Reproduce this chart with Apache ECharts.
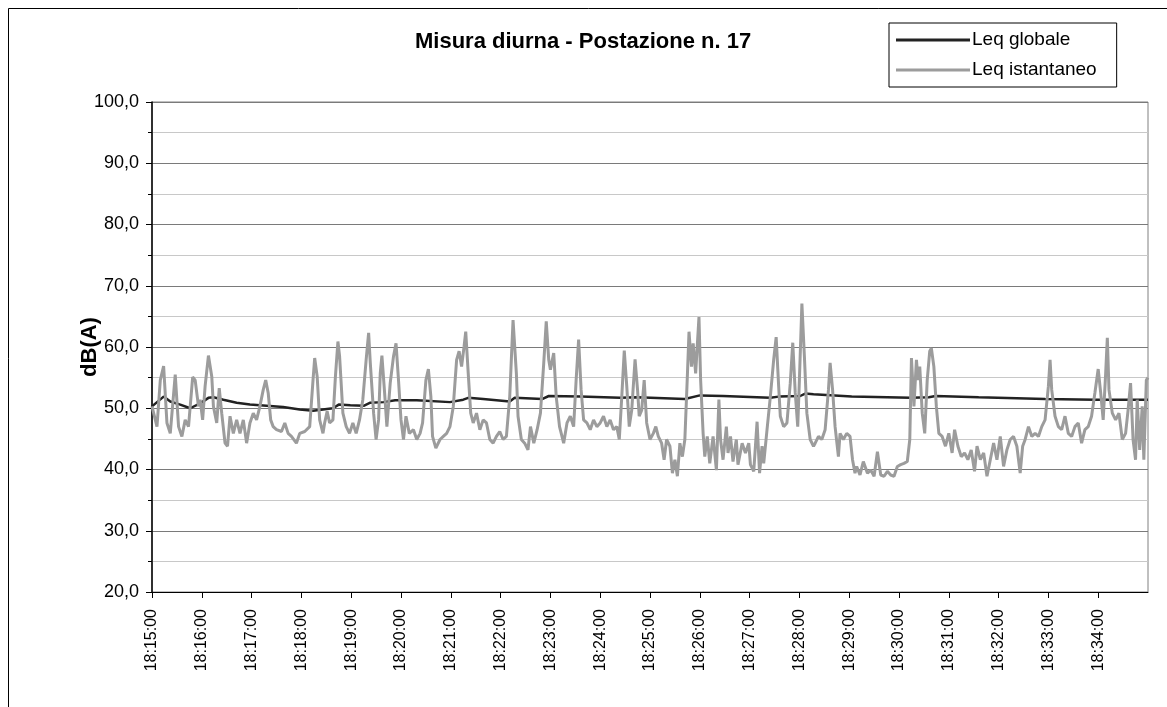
<!DOCTYPE html>
<html>
<head>
<meta charset="utf-8">
<script src="https://cdn.jsdelivr.net/npm/echarts@6/dist/echarts.min.js"></script>
<style>
  html, body { margin: 0; padding: 0; background: #fff; }
  #chart { width: 1167px; height: 707px; }
</style>
</head>
<body>
<div id="chart"></div>
<script>
  // seconds from 18:15:00, dB(A)
  var leqIstantaneo = [
    [0,50.3],[6,47.0],[10,54.6],[14,56.9],[18,47.6],[22,45.9],[28,55.5],[32,47.0],[36,45.4],[40,48.1],[44,47.0],[49,55.1],[52,54.6],[56,50.3],[58,51.4],
    [61,48.1],[64,53.6],[68,58.6],[72,55.2],[74,50.3],[78,47.6],[81,53.3],[84,49.2],[88,44.3],[91,43.8],[94,48.7],[98,45.9],[102,48.1],[106,45.9],[110,48.1],[114,44.3],[118,47.6],
    [122,49.2],[126,48.1],[130,50.3],[134,53.0],[137,54.6],[140,52.5],[143,48.1],[146,47.0],[150,46.5],[156,46.2],[160,47.6],[164,45.9],[168,45.4],[174,44.3],[178,45.9],
    [184,46.2],[190,47.0],[194,54.6],[196,58.2],[199,55.2],[202,48.1],[206,45.9],[208,47.6],[211,49.5],[214,47.6],[218,48.1],[221,55.2],[224,60.9],[226,58.5],[230,49.2],[234,47.0],[238,45.9],
    [242,47.6],[246,45.9],[250,48.1],[254,51.4],[258,57.9],[261,62.3],[263,57.4],[267,49.2],[270,44.9],[273,48.1],[275,55.7],[277,58.6],[280,53.0],[283,47.0],[287,54.1],[291,58.5],[294,60.6],[297,54.6],
    [300,48.1],[303,44.9],[306,48.7],[310,45.9],[315,46.5],[319,44.9],[323,45.9],[326,47.6],[330,54.6],[333,56.4],[336,51.9],[338,45.4],[342,43.5],[347,44.9],[351,45.4],[355,45.9],[359,47.0],
    [363,50.3],[367,57.9],[370,59.3],[373,56.8],[376,60.1],[378,62.5],[381,55.7],[384,49.2],[387,47.6],[391,49.2],[395,46.5],[399,48.1],
    [403,47.6],[407,44.9],[411,44.3],[415,45.4],[419,46.2],[423,44.9],[427,45.4],[431,51.9],[435,64.4],[439,55.7],[441,48.7],[445,44.9],[449,44.3],[453,43.2],[456,47.0],[460,44.3],[464,46.5],[468,49.2],[472,57.4],[475,64.2],[478,57.9],
    [480,56.3],[484,59.0],[487,51.9],[491,47.0],[496,44.3],[500,47.6],[504,48.7],[508,47.0],[511,54.6],[514,61.2],[517,53.0],[520,48.1],[524,47.6],[528,46.5],[532,48.1],[536,47.0],
    [540,47.6],[544,48.7],[548,47.0],[552,48.1],[556,46.5],[560,47.0],[563,44.9],[566,51.9],[569,59.4],[572,53.6],[575,47.0],[578,49.7],[582,58.0],[585,53.0],[587,48.7],[590,49.7],[593,54.6],[596,47.6],
    [600,44.9],[604,45.9],[607,47.0],[610,45.4],[614,44.3],[617,41.6],[620,44.9],[624,43.8],[627,39.4],[630,41.6],[633,38.9],[636,44.3],[639,42.1],[642,44.9],[645,55.2],[647,62.5],[650,56.8],[652,60.6],[655,55.7],[659,64.9],
    [661,54.6],[664,45.9],[666,42.1],[669,45.4],[672,41.0],[676,45.4],[680,39.9],[683,51.4],[685,44.9],[688,41.6],[692,47.0],[694,42.7],[697,45.4],[700,41.3],[704,44.9],[706,40.8],[711,44.3],[715,42.7],
    [719,44.3],[721,40.8],[725,39.7],[729,47.8],[732,39.4],[735,43.8],[737,41.0],[741,46.5],[745,51.9],[749,57.9],[752,61.6],[755,53.6],[757,48.7],[761,47.0],[765,47.6],[769,54.1],[772,60.7],[775,52.5],
    [778,47.0],[780,54.6],[783,67.1],[786,58.5],[789,49.2],[793,44.9],[797,43.8],
    [799,44.3],[803,45.4],[807,44.9],[811,46.5],[815,53.0],[817,57.4],[820,53.0],[823,47.0],[827,42.1],[829,45.9],[833,44.9],[837,45.9],[841,45.4],[844,41.6],[847,39.4],[849,40.5],[853,39.1],[857,41.3],
    [862,39.4],[866,39.9],[870,38.9],[874,42.9],[878,39.1],[882,38.9],[886,39.7],[890,39.1],[894,38.9],[898,40.5],[902,40.8],[906,41.0],[910,41.3],[913,44.9],[915,58.2],[918,50.3],[921,57.9],
    [923,54.6],[925,56.8],[928,49.2],[931,45.9],[934,54.6],[937,59.3],[939,59.8],[942,56.8],[945,50.3],[948,45.9],[952,45.4],[956,43.8],[960,45.9],[964,42.7],[967,46.5],[971,43.8],[975,42.1],
    [979,42.7],[983,41.6],[987,43.2],[991,39.7],[994,43.8],[998,41.6],[1002,42.7],[1006,38.9],[1010,41.6],[1014,44.3],[1018,41.6],[1022,45.4],[1026,40.5],[1030,43.2],[1034,44.9],[1038,45.4],
    [1042,43.8],[1046,39.4],[1049,43.8],[1052,44.9],[1056,47.0],[1060,45.4],[1064,45.9],[1068,45.4],[1072,47.0],[1076,48.1],[1080,53.6],[1082,57.9],[1084,53.0],[1088,48.7],[1092,47.0],[1096,46.5],
    [1100,48.7],[1104,45.9],[1108,45.4],[1112,47.0],[1116,47.6],[1120,44.3],[1124,46.5],[1128,47.0],[1132,48.7],[1136,52.5],[1140,56.4],[1143,52.5],[1146,48.1],[1149,55.7],[1151,61.5],[1153,53.0],
    [1157,49.2],[1161,48.1],[1165,49.2],[1169,44.9],[1173,45.9],[1176,49.7],[1179,54.1],[1182,44.9],[1185,41.6],[1187,51.4],[1190,43.2],[1193,50.3],[1195,41.6],[1198,54.6],[1200,55.0]
  ]

  var leqGlobale = [
    [0,50.3],[14,51.9],[22,51.1],[34,50.6],[46,50.0],[58,50.8],[68,51.7],[74,51.8],[86,51.4],[102,50.9],[118,50.6],[138,50.4],[158,50.2],[178,49.8],[194,49.6],
    [218,50.0],[225,50.6],[239,50.5],[255,50.4],[263,50.9],[279,51.0],[293,51.3],[295,51.5],[319,51.3],[359,51.0],[375,51.4],[381,51.7],[399,51.5],[431,51.1],
    [437,51.7],[470,51.5],[478,52.0],[516,51.9],[564,51.7],[584,51.8],[642,51.5],[660,52.1],[688,52.0],[745,51.7],[755,51.9],[781,52.0],[787,52.4],[797,52.3],
    [843,51.9],[914,51.7],[936,51.8],[944,52.0],[996,51.8],[1076,51.5],[1137,51.4],[1200,51.4]
  ]

  var startLabel = [18, 15, 0]
  var font = 'Liberation Sans, Arial, sans-serif'

  function timeLabel (sec) {
    var t = startLabel[0] * 3600 + startLabel[1] * 60 + startLabel[2] + sec
    var h = Math.floor(t / 3600)
    var m = Math.floor((t % 3600) / 60)
    var s = t % 60
    var pad = function (n) { return (n < 10 ? '0' : '') + n }
    return h + ':' + pad(m) + ':' + pad(s)
  }

  var myChart = echarts.init(document.getElementById('chart'))
  var option = {
    backgroundColor: '#fff',
    animation: false,
    textStyle: { fontFamily: font },
    graphic: [{
      type: 'rect',
      shape: { x: 8.5, y: 8.5, width: 1300, height: 900 },
      style: { fill: 'none', stroke: '#000', lineWidth: 1 },
      silent: true
    }],
    title: {
      text: 'Misura diurna - Postazione n. 17',
      left: 415,
      top: 31,
      padding: 0,
      textStyle: { fontFamily: font, fontSize: 22, fontWeight: 'bold', color: '#000' }
    },
    legend: {
      data: ['Leq globale', 'Leq istantaneo'],
      orient: 'vertical',
      left: 889,
      top: 23,
      padding: [7, 20, 7, 7],
      itemGap: 10,
      itemWidth: 74,
      itemHeight: 3,
      icon: 'rect',
      borderColor: '#000',
      borderWidth: 1,
      textStyle: { fontFamily: font, fontSize: 19, lineHeight: 20, color: '#000', padding: [0, 0, 0, -3] }
    },
    grid: {
      left: 152,
      top: 102,
      width: 996,
      height: 490,
      show: true,
      borderColor: '#808080',
      borderWidth: 1
    },
    xAxis: {
      type: 'value',
      min: 0,
      max: 1200,
      interval: 60,
      axisLine: { lineStyle: { color: '#000', width: 1 } },
      axisTick: { length: 6, lineStyle: { color: '#000' } },
      splitLine: { show: false },
      axisLabel: {
        rotate: 90,
        margin: 17,
        showMaxLabel: false,
        color: '#000',
        fontFamily: font,
        fontSize: 16,
        formatter: function (v) { return timeLabel(v) }
      }
    },
    yAxis: {
      type: 'value',
      min: 20,
      max: 100,
      interval: 10,
      name: 'dB(A)',
      nameLocation: 'middle',
      nameGap: 51,
      nameMoveOverlap: false,
      nameTextStyle: { fontFamily: font, fontSize: 22, fontWeight: 'bold', color: '#000' },
      axisLine: { show: true, lineStyle: { color: '#000', width: 1.5 } },
      axisTick: { show: true, length: 6, lineStyle: { color: '#000' } },
      minorTick: { show: true, splitNumber: 2, length: 4, lineStyle: { color: '#000' } },
      splitLine: { show: true, lineStyle: { color: '#7a7a7a', width: 1 } },
      minorSplitLine: { show: true, lineStyle: { color: '#c8c8c8', width: 1 } },
      axisLabel: {
        margin: 13,
        color: '#000',
        fontFamily: font,
        fontSize: 18,
        formatter: function (v) { return v.toFixed(1).replace('.', ',') }
      }
    },
    series: [{
      name: 'Leq globale',
      type: 'line',
      symbol: 'none',
      data: leqGlobale,
      lineStyle: { color: '#222', width: 2.5 },
      itemStyle: { color: '#222' }
    }, {
      name: 'Leq istantaneo',
      type: 'line',
      symbol: 'none',
      data: leqIstantaneo,
      lineStyle: { color: '#9c9c9c', width: 3 },
      itemStyle: { color: '#9c9c9c' }
    }]
  }
  myChart.setOption(option)
</script>
</body>
</html>
